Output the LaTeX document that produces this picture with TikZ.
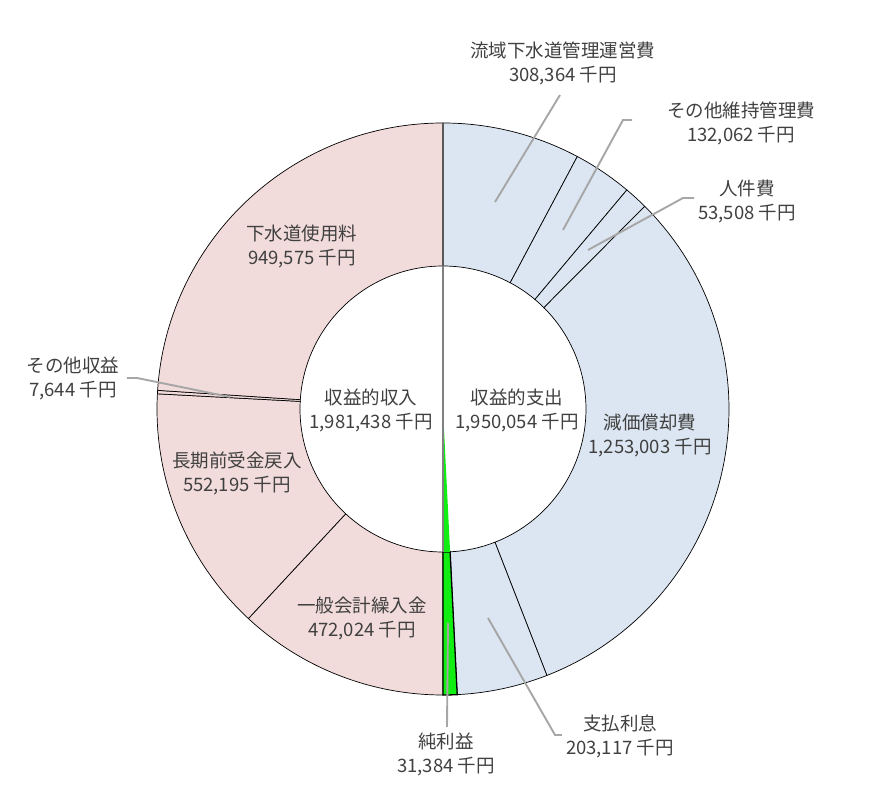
\documentclass[tikz,border=0pt]{standalone}
\usepackage{fontspec}
\setmainfont{Noto Sans CJK JP}
\definecolor{incomepink}{HTML}{F2DCDB}
\definecolor{costblue}{HTML}{DCE6F2}
\definecolor{profitgreen}{HTML}{11EE11}
\definecolor{textgray}{HTML}{404040}
\definecolor{leadergray}{HTML}{A6A6A6}
\tikzstyle{incomepart} = [fill=incomepink, draw=black, line width=0.7pt]
\tikzstyle{costpart} = [fill=costblue, draw=black, line width=0.7pt]
\tikzstyle{profitpart} = [fill=profitgreen, draw=black, line width=1.3pt]
\tikzstyle{slicetext} = [text=textgray, align=center, font=\fontsize{18.5}{24}\selectfont]
\tikzstyle{leaderline} = [draw=leadergray, line width=1.9pt]
\newcommand{\donutpart}[3]{\draw[#3] (#1:286pt) arc[start angle=#1, end angle=#2, radius=286pt] -- (#2:143pt) arc[start angle=#2, end angle=#1, radius=143pt] -- cycle;}

\begin{document}
\begin{tikzpicture}[x=1pt,y=1pt]
					\useasboundingbox (-443,-388) rectangle (441,409);
					% ring
					\donutpart{90}{61.987}{costpart}
					\donutpart{61.987}{49.990}{costpart}
					\donutpart{49.990}{45.130}{costpart}
					\donutpart{45.130}{-68.697}{costpart}
					\donutpart{-68.697}{-87.149}{costpart}
					\donutpart{-90}{-132.880}{incomepart}
					\donutpart{-132.880}{-183.043}{incomepart}
					\donutpart{-183.043}{-183.738}{incomepart}
					\donutpart{-183.738}{-270}{incomepart}
					\donutpart{-87.149}{-90}{profitpart}
					\draw[black!65, line width=1.2pt] (90:143pt) -- (90:286pt);
					% hole
					\fill[profitgreen] (0,0) -- (-90:143pt) arc[start angle=-90, end angle=-87.149, radius=143pt] -- cycle;
					\draw[gray, line width=1.3pt] (90:143pt) -- (0,0) -- (-90:143pt);
					% labels
					\node[slicetext] (income) at (-72,-1) {収益的収入\\1,981,438 千円};
					\node[slicetext] (expense) at (74,-1) {収益的支出\\1,950,054 千円};
					\node[slicetext] (usage) at (-141,163) {下水道使用料\\949,575 千円};
					\node[slicetext] (otherinc) at (-370,31) {その他収益\\7,644 千円};
					\node[slicetext] (longterm) at (-206,-64) {長期前受金戻入\\552,195 千円};
					\node[slicetext] (general) at (-81,-209) {一般会計繰入金\\472,024 千円};
					\node[slicetext] (basin) at (120,346) {流域下水道管理運営費\\308,364 千円};
					\node[slicetext] (maint) at (298,286) {その他維持管理費\\132,062 千円};
					\node[slicetext] (staff) at (304,208) {人件費\\53,508 千円};
					\node[slicetext] (deprec) at (207,-26) {減価償却費\\1,253,003 千円};
					\node[slicetext] (interest) at (177,-327) {支払利息\\203,117 千円};
					\node[slicetext] (profit) at (3,-345) {純利益\\31,384 千円};
					% leaders
					\coordinate (basin-a) at (117,314);
					\coordinate (basin-b) at (52,207);
					\coordinate (maint-a) at (189,289);
					\coordinate (maint-b) at (180,289);
					\coordinate (maint-c) at (120,179);
					\coordinate (staff-a) at (251,211);
					\coordinate (staff-b) at (240,211);
					\coordinate (staff-c) at (145,159);
					\coordinate (interest-a) at (119,-326);
					\coordinate (interest-b) at (112,-326);
					\coordinate (interest-c) at (45,-209);
					\coordinate (profit-a) at (4,-318);
					\coordinate (profit-b) at (5,-214);
					\coordinate (otherinc-a) at (-316,31);
					\coordinate (otherinc-b) at (-306,31);
					\coordinate (otherinc-c) at (-213,12);
					\draw[leaderline] (basin-a) -- (basin-b);
					\draw[leaderline] (maint-a) -- (maint-b) -- (maint-c);
					\draw[leaderline] (staff-a) -- (staff-b) -- (staff-c);
					\draw[leaderline] (interest-a) -- (interest-b) -- (interest-c);
					\draw[leaderline] (profit-a) -- (profit-b);
					\draw[leaderline] (otherinc-a) -- (otherinc-b) -- (otherinc-c);
					\end{tikzpicture}
\end{document}
